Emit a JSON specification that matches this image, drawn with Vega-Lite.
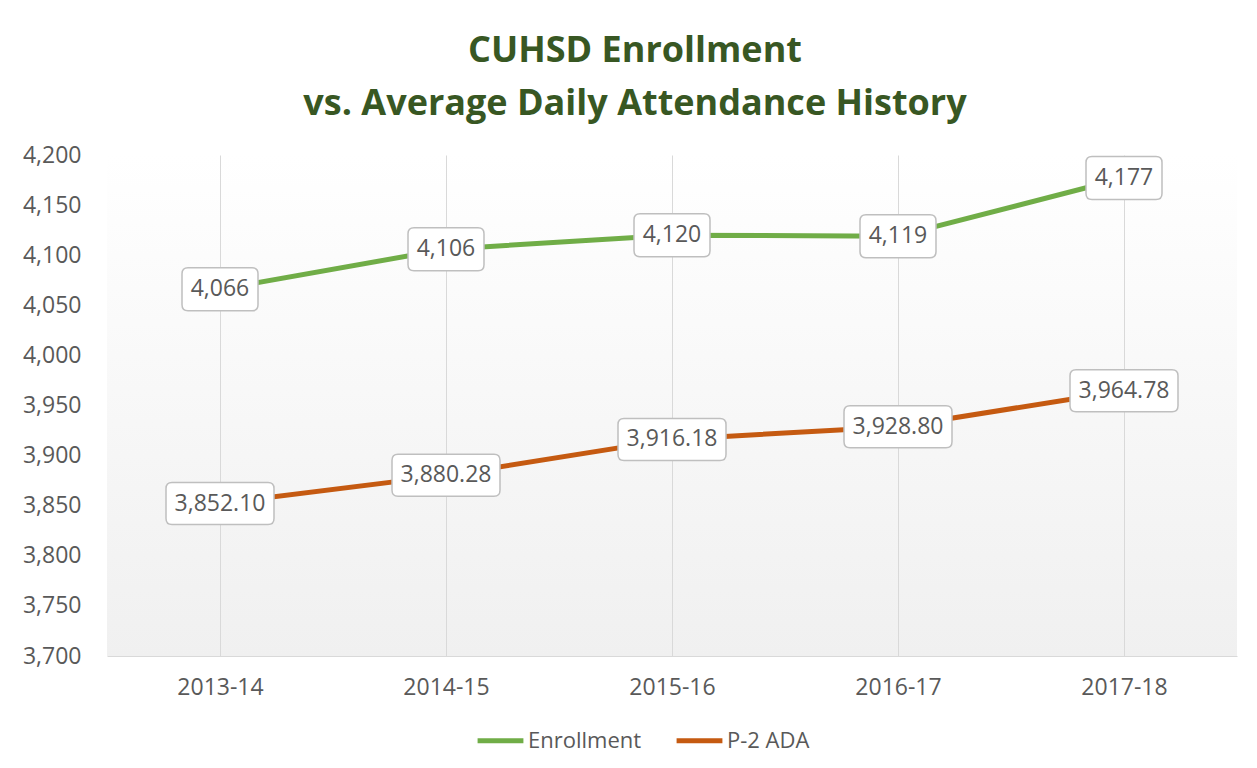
{
  "$schema": "https://vega.github.io/schema/vega-lite/v6.json",
  "width": 1130,
  "height": 501,
  "autosize": "none",
  "padding": {"left": 107, "top": 155, "right": 20, "bottom": 112},
  "background": "white",
  "title": {
    "text": ["CUHSD Enrollment", "vs. Average Daily Attendance History"],
    "font": "Open Sans",
    "fontSize": 36,
    "fontWeight": "bold",
    "color": "#385723",
    "anchor": "middle",
    "dx": -37,
    "lineHeight": 53,
    "offset": 21
  },
  "config": {
    "view": {
      "stroke": null,
      "fill": {"gradient": "linear", "x1": 0, "y1": 0, "x2": 0, "y2": 1, "stops": [{"offset": 0, "color": "#ffffff"}, {"offset": 1, "color": "#f0f0f0"}]}
    },
    "font": "Open Sans"
  },
  "data": {
    "values": [
      {"year": "2013-14", "series": "Enrollment", "value": 4066},
      {"year": "2014-15", "series": "Enrollment", "value": 4106},
      {"year": "2015-16", "series": "Enrollment", "value": 4120},
      {"year": "2016-17", "series": "Enrollment", "value": 4119},
      {"year": "2017-18", "series": "Enrollment", "value": 4177},
      {"year": "2013-14", "series": "P-2 ADA", "value": 3852.10},
      {"year": "2014-15", "series": "P-2 ADA", "value": 3880.28},
      {"year": "2015-16", "series": "P-2 ADA", "value": 3916.18},
      {"year": "2016-17", "series": "P-2 ADA", "value": 3928.80},
      {"year": "2017-18", "series": "P-2 ADA", "value": 3964.78}
    ]
  },
  "encoding": {
    "x": {
      "field": "year",
      "type": "ordinal",
      "scale": {"type": "point", "padding": 0.5},
      "axis": {
        "title": null,
        "labelAngle": 0,
        "labelFont": "Open Sans",
        "labelFontSize": 23,
        "labelColor": "#595959",
        "labelPadding": 20,
        "ticks": false,
        "domainColor": "#d9d9d9",
        "domainWidth": 1,
        "grid": true,
        "gridColor": "#d9d9d9",
        "gridWidth": 1
      }
    },
    "y": {
      "field": "value",
      "type": "quantitative",
      "scale": {"domain": [3700, 4200], "nice": false, "zero": false},
      "axis": {
        "title": null,
        "values": [3700, 3750, 3800, 3850, 3900, 3950, 4000, 4050, 4100, 4150, 4200],
        "format": ",.0f",
        "labelFont": "Open Sans",
        "labelFontSize": 23,
        "labelColor": "#595959",
        "labelPadding": 26,
        "ticks": false,
        "domain": false,
        "grid": false
      }
    }
  },
  "layer": [
    {
      "mark": {"type": "line", "strokeWidth": 5, "strokeCap": "round", "strokeJoin": "round"},
      "encoding": {
        "color": {
          "field": "series",
          "type": "nominal",
          "scale": {"domain": ["Enrollment", "P-2 ADA"], "range": ["#70ad47", "#c55a11"]},
          "legend": {
            "title": null,
            "orient": "none",
            "legendX": 368,
            "legendY": 560,
            "direction": "horizontal",
            "symbolType": "stroke",
            "symbolStrokeWidth": 5,
            "symbolSize": 2100,
            "labelFont": "Open Sans",
            "labelFontSize": 22,
            "labelColor": "#595959",
            "labelOffset": 2,
            "columnPadding": 24
          }
        }
      }
    },
    {
      "transform": [{"filter": "datum.series === 'Enrollment'"}],
      "mark": {"type": "point", "filled": true, "fill": "white", "stroke": "#bfbfbf", "strokeWidth": 1.5, "opacity": 1, "size": 4,
        "shape": "M-32,-21.5H32Q38,-21.5 38,-15.5V15.5Q38,21.5 32,21.5H-32Q-38,21.5 -38,15.5V-15.5Q-38,-21.5 -32,-21.5Z"}
    },
    {
      "transform": [{"filter": "datum.series === 'P-2 ADA'"}],
      "mark": {"type": "point", "filled": true, "fill": "white", "stroke": "#bfbfbf", "strokeWidth": 1.5, "opacity": 1, "size": 4,
        "shape": "M-48,-21H48Q54,-21 54,-15V15Q54,21 48,21H-48Q-54,21 -54,15V-15Q-54,-21 -48,-21Z"}
    },
    {
      "transform": [{"filter": "datum.series === 'Enrollment'"}],
      "mark": {"type": "text", "font": "Open Sans", "fontSize": 23, "color": "#595959", "baseline": "middle", "align": "center"},
      "encoding": {"text": {"field": "value", "type": "quantitative", "format": ",.0f"}}
    },
    {
      "transform": [{"filter": "datum.series === 'P-2 ADA'"}],
      "mark": {"type": "text", "font": "Open Sans", "fontSize": 23, "color": "#595959", "baseline": "middle", "align": "center"},
      "encoding": {"text": {"field": "value", "type": "quantitative", "format": ",.2f"}}
    }
  ]
}
